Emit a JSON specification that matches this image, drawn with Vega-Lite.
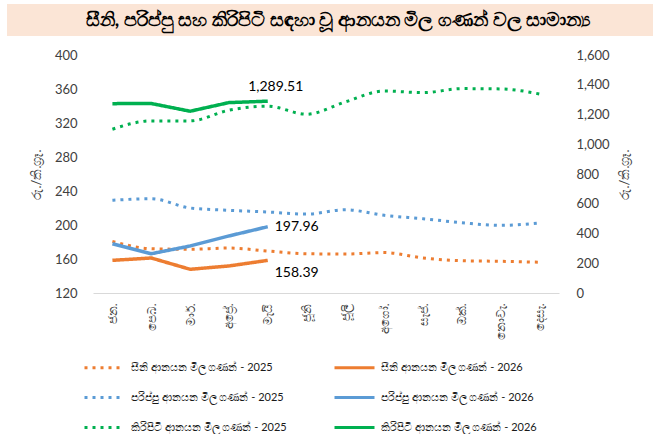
{
  "$schema": "https://vega.github.io/schema/vega-lite/v6.json",
  "padding": {"left": 7, "top": 4, "right": 0, "bottom": 0},
  "spacing": 13,
  "background": "white",
  "config": {
    "view": {"stroke": null},
    "font": "Lato",
    "axis": {"labelFont": "Lato", "titleFont": "Lato"},
    "legend": {"labelFont": "Lato"}
  },
  "vconcat": [
    {
      "width": 646,
      "height": 32,
      "view": {"fill": "#FBE5D6", "stroke": null},
      "data": {"values": [{"t": "සීනි, පරිප්පු සහ කිරිපිටි සඳහා වූ ආනයන මිල ගණන් වල සාමාන්‍ය"}]},
      "mark": {"type": "text", "fontSize": 19, "fontWeight": "bold", "color": "#000000", "align": "center", "baseline": "middle", "dx": 8},
      "encoding": {"text": {"field": "t"}}
    },
    {
      "spacing": 0,
      "hconcat": [
        {
          "width": 23,
          "height": 10,
          "data": {"values": []},
          "mark": "rect"
        },
        {
          "width": 466,
          "height": 238,
          "data": {"values": [
            {"m": "ජන.", "p": "සීනි", "y": 2025, "v": 180.8, "s": "සීනි ආනයන මිල ගණන් - 2025"},
            {"m": "පෙබ.", "p": "සීනි", "y": 2025, "v": 172.1, "s": "සීනි ආනයන මිල ගණන් - 2025"},
            {"m": "මාර්.", "p": "සීනි", "y": 2025, "v": 171.4, "s": "සීනි ආනයන මිල ගණන් - 2025"},
            {"m": "අප්‍රේ.", "p": "සීනි", "y": 2025, "v": 172.9, "s": "සීනි ආනයන මිල ගණන් - 2025"},
            {"m": "මැයි", "p": "සීනි", "y": 2025, "v": 169.4, "s": "සීනි ආනයන මිල ගණන් - 2025"},
            {"m": "ජූනි", "p": "සීනි", "y": 2025, "v": 166.2, "s": "සීනි ආනයන මිල ගණන් - 2025"},
            {"m": "ජූලි", "p": "සීනි", "y": 2025, "v": 165.8, "s": "සීනි ආනයන මිල ගණන් - 2025"},
            {"m": "අගෝ.", "p": "සීනි", "y": 2025, "v": 167.6, "s": "සීනි ආනයන මිල ගණන් - 2025"},
            {"m": "සැප්.", "p": "සීනි", "y": 2025, "v": 161.2, "s": "සීනි ආනයන මිල ගණන් - 2025"},
            {"m": "ඔක්.", "p": "සීනි", "y": 2025, "v": 158.0, "s": "සීනි ආනයන මිල ගණන් - 2025"},
            {"m": "නොවැ.", "p": "සීනි", "y": 2025, "v": 157.3, "s": "සීනි ආනයන මිල ගණන් - 2025"},
            {"m": "දෙසැ.", "p": "සීනි", "y": 2025, "v": 156.2, "s": "සීනි ආනයන මිල ගණන් - 2025"},
            {"m": "ජන.", "p": "සීනි", "y": 2026, "v": 158.4, "s": "සීනි ආනයන මිල ගණන් - 2026"},
            {"m": "පෙබ.", "p": "සීනි", "y": 2026, "v": 161.2, "s": "සීනි ආනයන මිල ගණන් - 2026"},
            {"m": "මාර්.", "p": "සීනි", "y": 2026, "v": 147.9, "s": "සීනි ආනයන මිල ගණන් - 2026"},
            {"m": "අප්‍රේ.", "p": "සීනි", "y": 2026, "v": 151.8, "s": "සීනි ආනයන මිල ගණන් - 2026"},
            {"m": "මැයි", "p": "සීනි", "y": 2026, "v": 158.39, "s": "සීනි ආනයන මිල ගණන් - 2026"},
            {"m": "ජන.", "p": "පරිප්පු", "y": 2025, "v": 229.1, "s": "පරිප්පු ආනයන මිල ගණන් - 2025"},
            {"m": "පෙබ.", "p": "පරිප්පු", "y": 2025, "v": 230.9, "s": "පරිප්පු ආනයන මිල ගණන් - 2025"},
            {"m": "මාර්.", "p": "පරිප්පු", "y": 2025, "v": 220.0, "s": "පරිප්පු ආනයන මිල ගණන් - 2025"},
            {"m": "අප්‍රේ.", "p": "පරිප්පු", "y": 2025, "v": 217.3, "s": "පරිප්පු ආනයන මිල ගණන් - 2025"},
            {"m": "මැයි", "p": "පරිප්පු", "y": 2025, "v": 215.3, "s": "පරිප්පු ආනයන මිල ගණන් - 2025"},
            {"m": "ජූනි", "p": "පරිප්පු", "y": 2025, "v": 212.8, "s": "පරිප්පු ආනයන මිල ගණන් - 2025"},
            {"m": "ජූලි", "p": "පරිප්පු", "y": 2025, "v": 218.0, "s": "පරිප්පු ආනයන මිල ගණන් - 2025"},
            {"m": "අගෝ.", "p": "පරිප්පු", "y": 2025, "v": 211.4, "s": "පරිප්පු ආනයන මිල ගණන් - 2025"},
            {"m": "සැප්.", "p": "පරිප්පු", "y": 2025, "v": 207.4, "s": "පරිප්පු ආනයන මිල ගණන් - 2025"},
            {"m": "ඔක්.", "p": "පරිප්පු", "y": 2025, "v": 202.7, "s": "පරිප්පු ආනයන මිල ගණන් - 2025"},
            {"m": "නොවැ.", "p": "පරිප්පු", "y": 2025, "v": 199.6, "s": "පරිප්පු ආනයන මිල ගණන් - 2025"},
            {"m": "දෙසැ.", "p": "පරිප්පු", "y": 2025, "v": 202.4, "s": "පරිප්පු ආනයන මිල ගණන් - 2025"},
            {"m": "ජන.", "p": "පරිප්පු", "y": 2026, "v": 178.0, "s": "පරිප්පු ආනයන මිල ගණන් - 2026"},
            {"m": "පෙබ.", "p": "පරිප්පු", "y": 2026, "v": 166.2, "s": "පරිප්පු ආනයන මිල ගණන් - 2026"},
            {"m": "මාර්.", "p": "පරිප්පු", "y": 2026, "v": 175.3, "s": "පරිප්පු ආනයන මිල ගණන් - 2026"},
            {"m": "අප්‍රේ.", "p": "පරිප්පු", "y": 2026, "v": 187.1, "s": "පරිප්පු ආනයන මිල ගණන් - 2026"},
            {"m": "මැයි", "p": "පරිප්පු", "y": 2026, "v": 197.96, "s": "පරිප්පු ආනයන මිල ගණන් - 2026"},
            {"m": "ජන.", "p": "කිරිපිටි", "y": 2025, "v": 1101, "s": "කිරිපිටි ආනයන මිල ගණන් - 2025"},
            {"m": "පෙබ.", "p": "කිරිපිටි", "y": 2025, "v": 1157, "s": "කිරිපිටි ආනයන මිල ගණන් - 2025"},
            {"m": "මාර්.", "p": "කිරිපිටි", "y": 2025, "v": 1157, "s": "කිරිපිටි ආනයන මිල ගණන් - 2025"},
            {"m": "අප්‍රේ.", "p": "කිරිපිටි", "y": 2025, "v": 1229, "s": "කිරිපිටි ආනයන මිල ගණන් - 2025"},
            {"m": "මැයි", "p": "කිරිපිටි", "y": 2025, "v": 1256, "s": "කිරිපිටි ආනයන මිල ගණන් - 2025"},
            {"m": "ජූනි", "p": "කිරිපිටි", "y": 2025, "v": 1202, "s": "කිරිපිටි ආනයන මිල ගණන් - 2025"},
            {"m": "ජූලි", "p": "කිරිපිටි", "y": 2025, "v": 1285, "s": "කිරිපිටි ආනයන මිල ගණන් - 2025"},
            {"m": "අගෝ.", "p": "කිරිපිටි", "y": 2025, "v": 1358, "s": "කිරිපිටි ආනයන මිල ගණන් - 2025"},
            {"m": "සැප්.", "p": "කිරිපිටි", "y": 2025, "v": 1347, "s": "කිරිපිටි ආනයන මිල ගණන් - 2025"},
            {"m": "ඔක්.", "p": "කිරිපිටි", "y": 2025, "v": 1374, "s": "කිරිපිටි ආනයන මිල ගණන් - 2025"},
            {"m": "නොවැ.", "p": "කිරිපිටි", "y": 2025, "v": 1372, "s": "කිරිපිටි ආනයන මිල ගණන් - 2025"},
            {"m": "දෙසැ.", "p": "කිරිපිටි", "y": 2025, "v": 1338, "s": "කිරිපිටි ආනයන මිල ගණන් - 2025"},
            {"m": "ජන.", "p": "කිරිපිටි", "y": 2026, "v": 1273, "s": "කිරිපිටි ආනයන මිල ගණන් - 2026"},
            {"m": "පෙබ.", "p": "කිරිපිටි", "y": 2026, "v": 1274, "s": "කිරිපිටි ආනයන මිල ගණන් - 2026"},
            {"m": "මාර්.", "p": "කිරිපිටි", "y": 2026, "v": 1222, "s": "කිරිපිටි ආනයන මිල ගණන් - 2026"},
            {"m": "අප්‍රේ.", "p": "කිරිපිටි", "y": 2026, "v": 1280, "s": "කිරිපිටි ආනයන මිල ගණන් - 2026"},
            {"m": "මැයි", "p": "කිරිපිටි", "y": 2026, "v": 1289.51, "s": "කිරිපිටි ආනයන මිල ගණන් - 2026"}
          ]},
          "encoding": {
            "x": {
              "field": "m", "type": "ordinal",
              "sort": ["ජන.", "පෙබ.", "මාර්.", "අප්‍රේ.", "මැයි", "ජූනි", "ජූලි", "අගෝ.", "සැප්.", "ඔක්.", "නොවැ.", "දෙසැ."],
              "scale": {"type": "point", "padding": 0.5},
              "axis": {"title": null, "labelAngle": 270, "domainColor": "#D9D9D9", "domainWidth": 1, "ticks": false, "labelColor": "#404040", "labelFontSize": 12, "labelPadding": 10}
            }
          },
          "layer": [
            {
              "transform": [{"filter": "datum.p != 'කිරිපිටි'"}],
              "encoding": {
                "y": {
                  "field": "v", "type": "quantitative",
                  "scale": {"domain": [120, 400], "zero": false, "nice": false},
                  "axis": {"values": [120, 160, 200, 240, 280, 320, 360, 400], "grid": false, "domain": false, "ticks": false, "labelPadding": 16, "labelFontSize": 13, "labelColor": "#404040", "title": "රු./කි.ග්‍රෑ.", "titleFontWeight": "normal", "titleFontSize": 13, "titleColor": "#404040", "titlePadding": 11}
                }
              },
              "layer": [
                {
                  "transform": [{"filter": "datum.y == 2025"}],
                  "mark": {"type": "line", "interpolate": "monotone", "strokeWidth": 3},
                  "encoding": {
                    "color": {"field": "s", "type": "nominal", "scale": {"domain": ["සීනි ආනයන මිල ගණන් - 2025", "සීනි ආනයන මිල ගණන් - 2026", "පරිප්පු ආනයන මිල ගණන් - 2025", "පරිප්පු ආනයන මිල ගණන් - 2026", "කිරිපිටි ආනයන මිල ගණන් - 2025", "කිරිපිටි ආනයන මිල ගණන් - 2026"], "range": ["#ED7D31", "#ED7D31", "#5B9BD5", "#5B9BD5", "#00B050", "#00B050"]},
                      "legend": {"orient": "none", "legendX": 76, "legendY": 342, "columns": 2, "direction": "horizontal", "title": null, "symbolType": "stroke", "symbolSize": 1600, "symbolStrokeWidth": 3, "labelFontSize": 11, "labelColor": "#1a1a1a", "labelLimit": 400, "rowPadding": 2, "columnPadding": 41, "labelOffset": 5, "padding": 0}},
                    "strokeDash": {"field": "s", "type": "nominal", "scale": {"domain": ["සීනි ආනයන මිල ගණන් - 2025", "සීනි ආනයන මිල ගණන් - 2026", "පරිප්පු ආනයන මිල ගණන් - 2025", "පරිප්පු ආනයන මිල ගණන් - 2026", "කිරිපිටි ආනයන මිල ගණන් - 2025", "කිරිපිටි ආනයන මිල ගණන් - 2026"], "range": [[3, 5], [1, 0], [3, 5], [1, 0], [3, 5], [1, 0]]},
                      "legend": {"orient": "none", "legendX": 76, "legendY": 342, "columns": 2, "direction": "horizontal", "title": null, "symbolType": "stroke", "symbolSize": 1600, "symbolStrokeWidth": 3, "labelFontSize": 11, "labelColor": "#1a1a1a", "labelLimit": 400, "rowPadding": 2, "columnPadding": 41, "labelOffset": 5, "padding": 0}}
                  }
                },
                {
                  "transform": [{"filter": "datum.y == 2026"}],
                  "mark": {"type": "line", "strokeWidth": 3.5},
                  "encoding": {
                    "color": {"field": "s", "type": "nominal", "scale": {"domain": ["සීනි ආනයන මිල ගණන් - 2025", "සීනි ආනයන මිල ගණන් - 2026", "පරිප්පු ආනයන මිල ගණන් - 2025", "පරිප්පු ආනයන මිල ගණන් - 2026", "කිරිපිටි ආනයන මිල ගණන් - 2025", "කිරිපිටි ආනයන මිල ගණන් - 2026"], "range": ["#ED7D31", "#ED7D31", "#5B9BD5", "#5B9BD5", "#00B050", "#00B050"]}},
                    "strokeDash": {"field": "s", "type": "nominal", "scale": {"domain": ["සීනි ආනයන මිල ගණන් - 2025", "සීනි ආනයන මිල ගණන් - 2026", "පරිප්පු ආනයන මිල ගණන් - 2025", "පරිප්පු ආනයන මිල ගණන් - 2026", "කිරිපිටි ආනයන මිල ගණන් - 2025", "කිරිපිටි ආනයන මිල ගණන් - 2026"], "range": [[3, 5], [1, 0], [3, 5], [1, 0], [3, 5], [1, 0]]}}
                  }
                },
                {
                  "transform": [{"filter": "datum.y == 2026 && datum.m == 'මැයි' && datum.p == 'පරිප්පු'"}],
                  "mark": {"type": "text", "align": "left", "baseline": "middle", "dx": 7, "dy": 0, "fontSize": 14, "color": "#000000"},
                  "encoding": {"text": {"field": "v", "type": "quantitative", "format": ".2f"}}
                },
                {
                  "transform": [{"filter": "datum.y == 2026 && datum.m == 'මැයි' && datum.p == 'සීනි'"}],
                  "mark": {"type": "text", "align": "left", "baseline": "middle", "dx": 7, "dy": 13, "fontSize": 14, "color": "#000000"},
                  "encoding": {"text": {"field": "v", "type": "quantitative", "format": ".2f"}}
                }
              ]
            },
            {
              "transform": [{"filter": "datum.p == 'කිරිපිටි'"}],
              "encoding": {
                "y": {
                  "field": "v", "type": "quantitative",
                  "scale": {"domain": [0, 1600], "nice": false},
                  "axis": {"orient": "right", "values": [0, 200, 400, 600, 800, 1000, 1200, 1400, 1600], "format": ",.0f", "grid": false, "domain": false, "ticks": false, "labelPadding": 17, "labelFontSize": 13, "labelColor": "#404040", "title": "රු./කි.ග්‍රෑ.", "titleAngle": 270, "titleFontWeight": "normal", "titleFontSize": 13, "titleColor": "#404040", "titlePadding": 22}
                }
              },
              "layer": [
                {
                  "transform": [{"filter": "datum.y == 2025"}],
                  "mark": {"type": "line", "interpolate": "monotone", "strokeWidth": 3},
                  "encoding": {
                    "color": {"field": "s", "type": "nominal", "scale": {"domain": ["සීනි ආනයන මිල ගණන් - 2025", "සීනි ආනයන මිල ගණන් - 2026", "පරිප්පු ආනයන මිල ගණන් - 2025", "පරිප්පු ආනයන මිල ගණන් - 2026", "කිරිපිටි ආනයන මිල ගණන් - 2025", "කිරිපිටි ආනයන මිල ගණන් - 2026"], "range": ["#ED7D31", "#ED7D31", "#5B9BD5", "#5B9BD5", "#00B050", "#00B050"]}},
                    "strokeDash": {"field": "s", "type": "nominal", "scale": {"domain": ["සීනි ආනයන මිල ගණන් - 2025", "සීනි ආනයන මිල ගණන් - 2026", "පරිප්පු ආනයන මිල ගණන් - 2025", "පරිප්පු ආනයන මිල ගණන් - 2026", "කිරිපිටි ආනයන මිල ගණන් - 2025", "කිරිපිටි ආනයන මිල ගණන් - 2026"], "range": [[3, 5], [1, 0], [3, 5], [1, 0], [3, 5], [1, 0]]}}
                  }
                },
                {
                  "transform": [{"filter": "datum.y == 2026"}],
                  "mark": {"type": "line", "strokeWidth": 3.5},
                  "encoding": {
                    "color": {"field": "s", "type": "nominal", "scale": {"domain": ["සීනි ආනයන මිල ගණන් - 2025", "සීනි ආනයන මිල ගණන් - 2026", "පරිප්පු ආනයන මිල ගණන් - 2025", "පරිප්පු ආනයන මිල ගණන් - 2026", "කිරිපිටි ආනයන මිල ගණන් - 2025", "කිරිපිටි ආනයන මිල ගණන් - 2026"], "range": ["#ED7D31", "#ED7D31", "#5B9BD5", "#5B9BD5", "#00B050", "#00B050"]}},
                    "strokeDash": {"field": "s", "type": "nominal", "scale": {"domain": ["සීනි ආනයන මිල ගණන් - 2025", "සීනි ආනයන මිල ගණන් - 2026", "පරිප්පු ආනයන මිල ගණන් - 2025", "පරිප්පු ආනයන මිල ගණන් - 2026", "කිරිපිටි ආනයන මිල ගණන් - 2025", "කිරිපිටි ආනයන මිල ගණන් - 2026"], "range": [[3, 5], [1, 0], [3, 5], [1, 0], [3, 5], [1, 0]]}}
                  }
                },
                {
                  "transform": [{"filter": "datum.y == 2026 && datum.m == 'මැයි'"}],
                  "mark": {"type": "text", "align": "center", "baseline": "middle", "dx": 8, "dy": -14, "fontSize": 14, "color": "#000000"},
                  "encoding": {"text": {"field": "v", "type": "quantitative", "format": ",.2f"}}
                }
              ]
            }
          ],
          "resolve": {"scale": {"y": "independent"}}
        }
      ]
    }
  ]
}
